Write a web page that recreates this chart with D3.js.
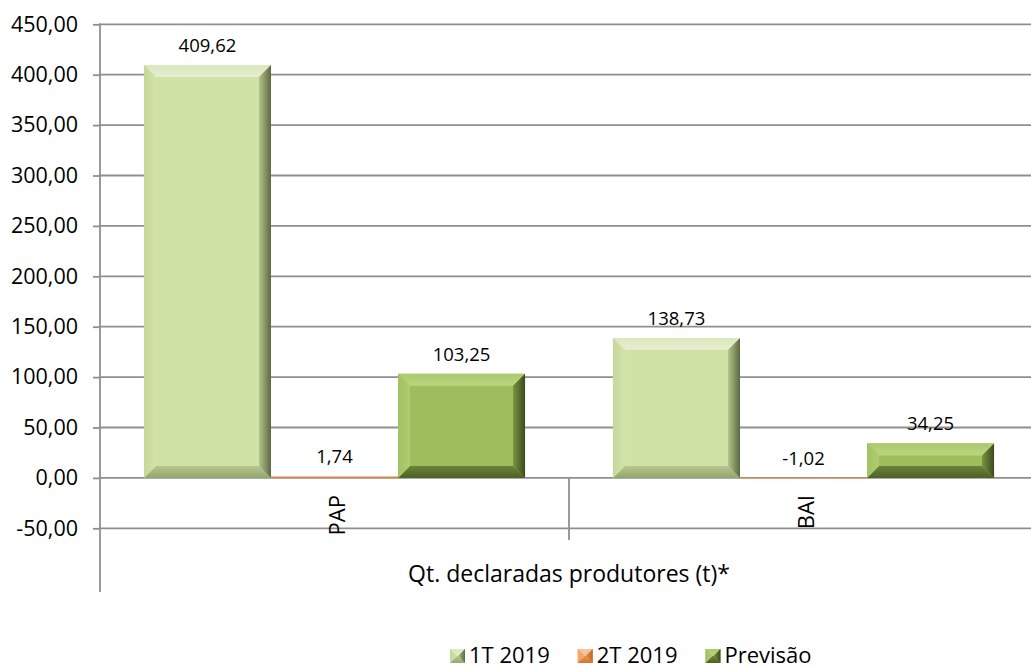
<!DOCTYPE html>
<html><head><meta charset="utf-8">
<script src="https://cdn.jsdelivr.net/npm/d3@7"></script>
<style>body{margin:0;background:#fff}svg{display:block}text{font-family:"Open Sans",sans-serif;fill:#000}</style>
</head><body>
<script>
// ---- data ----
const categories = ["PAP", "BAI"];
const seriesNames = ["1T 2019", "2T 2019", "Previsão"];
const values1T = [409.62, 138.73];
const values2T = [1.74, -1.02];
const valuesPrev = [103.25, 34.25];
const tickValues = [-50, 0, 50, 100, 150, 200, 250, 300, 350, 400, 450];
const axisTitle = "Qt. declaradas produtores (t)*";

const seriesValues = [values1T, values2T, valuesPrev];

// ---- layout ----
const W = 1031, H = 669;
const plotLeft = 100, plotRight = 1038, plotBottom = 592;
const svg = d3.select("body").append("svg").attr("width", W).attr("height", H);

const loc = d3.formatLocale({decimal: ",", thousands: ".", grouping: [3], currency: ["", ""], minus: "-"});
const fmt = loc.format(".2f");

const y = d3.scaleLinear().domain([-50, 450]).range([528.3, 24.3]);
const x0 = d3.scaleBand().domain(categories).range([plotLeft, plotRight]).padding(0);
const x1 = d3.scaleBand().domain(seriesNames).range([0, x0.bandwidth()]).paddingInner(0).paddingOuter(0.346);

const palettes = [
  {main: "#d1e2a6", top: ["#dbe8bd", "#e5eecf"], left: ["#c6d79a", "#d3e3aa"], right: ["#5c6842", "#b3c48c"], bottom: ["#95a66d", "#b5c78f"]},
  {main: "#f5a66a", top: ["#f9c49c", "#f9c49c"], left: ["#f5a66a", "#f5a66a"], right: ["#c66a25", "#e38a45"], bottom: ["#d2752f", "#e99455"]},
  {main: "#9ebd5c", top: ["#acc96d", "#bad680"], left: ["#a3c263", "#aecd6e"], right: ["#3c4a20", "#7a9442"], bottom: ["#4f6127", "#6b8337"]}
];

const defs = svg.append("defs");
function grad(id, c, dir) {
  const g = defs.append("linearGradient").attr("id", id)
    .attr("x1", dir[0]).attr("y1", dir[1]).attr("x2", dir[2]).attr("y2", dir[3]);
  g.append("stop").attr("offset", "0%").attr("stop-color", c[0]);
  g.append("stop").attr("offset", "100%").attr("stop-color", c[1]);
}
palettes.forEach((p, i) => {
  grad("t" + i, p.top, [0, 0, 0, 1]);
  grad("l" + i, p.left, [0, 0, 1, 0]);
  grad("r" + i, p.right, [1, 0, 0, 0]);
  grad("b" + i, p.bottom, [0, 1, 0, 0]);
});

function bevel(g, x, yy, w, h, i, bsize) {
  const b = Math.min(bsize, w / 2, h / 2);
  const p = palettes[i];
  g.append("rect").attr("x", x).attr("y", yy).attr("width", w).attr("height", h).attr("fill", p.main);
  const poly = (pts, fill) => g.append("polygon").attr("points", pts.map(d => d.join(",")).join(" ")).attr("fill", fill);
  poly([[x, yy], [x + w, yy], [x + w - b, yy + b], [x + b, yy + b]], `url(#t${i})`);
  poly([[x, yy + h], [x + w, yy + h], [x + w - b, yy + h - b], [x + b, yy + h - b]], `url(#b${i})`);
  poly([[x, yy], [x + b, yy + b], [x + b, yy + h - b], [x, yy + h]], `url(#l${i})`);
  poly([[x + w, yy], [x + w - b, yy + b], [x + w - b, yy + h - b], [x + w, yy + h]], `url(#r${i})`);
}

// gridlines
const gridColor = "#8f8f8f";
svg.append("g").selectAll("line").data(tickValues).join("line")
  .attr("x1", plotLeft).attr("x2", plotRight)
  .attr("y1", d => y(d)).attr("y2", d => y(d))
  .attr("stroke", gridColor).attr("stroke-width", 1.8);

// y axis
const yAxis = svg.append("g").attr("transform", `translate(${plotLeft},0)`)
  .call(d3.axisLeft(y).tickValues(tickValues).tickSize(7).tickPadding(15).tickFormat(fmt));
yAxis.select(".domain").remove();
yAxis.selectAll(".tick line").attr("stroke", gridColor).attr("stroke-width", 1.8);
yAxis.selectAll(".tick text").style("font-size", "21.5px").style("font-family", "Open Sans").attr("fill", "#000");
svg.append("line").attr("x1", plotLeft).attr("x2", plotLeft).attr("y1", y(450) - 1).attr("y2", plotBottom)
  .attr("stroke", gridColor).attr("stroke-width", 1.8);

// category divider ticks
svg.append("g").selectAll("line").data(categories.slice(1)).join("line")
  .attr("x1", d => x0(d)).attr("x2", d => x0(d))
  .attr("y1", y(0)).attr("y2", y(0) + 62)
  .attr("stroke", gridColor).attr("stroke-width", 1.8);

// bars
const barsG = svg.append("g");
categories.forEach((cat, ci) => {
  seriesNames.forEach((s, si) => {
    const v = seriesValues[si][ci];
    const xx = x0(cat) + x1(s);
    const top = Math.min(y(v), y(0));
    const h = Math.abs(y(v) - y(0));
    bevel(barsG, xx, top, x1.bandwidth(), h, si, 12);
    barsG.append("text")
      .attr("x", xx + x1.bandwidth() / 2).attr("y", top - 13)
      .attr("text-anchor", "middle").style("font-size", "18.5px")
      .text(fmt(v));
  });
});

// category labels (rotated)
svg.append("g").selectAll("text").data(categories).join("text")
  .attr("transform", d => `translate(${x0(d) + x0.bandwidth() / 2 + 1},495) rotate(-90)`)
  .attr("text-anchor", "end").attr("dominant-baseline", "central")
  .style("font-size", "22px").text(d => d);

// axis title
svg.append("text").attr("x", (plotLeft + plotRight) / 2).attr("y", 582)
  .attr("text-anchor", "middle").style("font-size", "23px").text(axisTitle);

// legend
const leg = svg.append("g");
let lx = 450;
seriesNames.forEach((s, i) => {
  const g = leg.append("g");
  bevel(g, lx, 649, 15, 14, i, 7.5);
  const t = g.append("text").attr("x", lx + 19).attr("y", 663).style("font-size", "22px").text(s);
  lx = lx + 19 + t.node().getComputedTextLength() + 28;
});
</script>
</body></html>
